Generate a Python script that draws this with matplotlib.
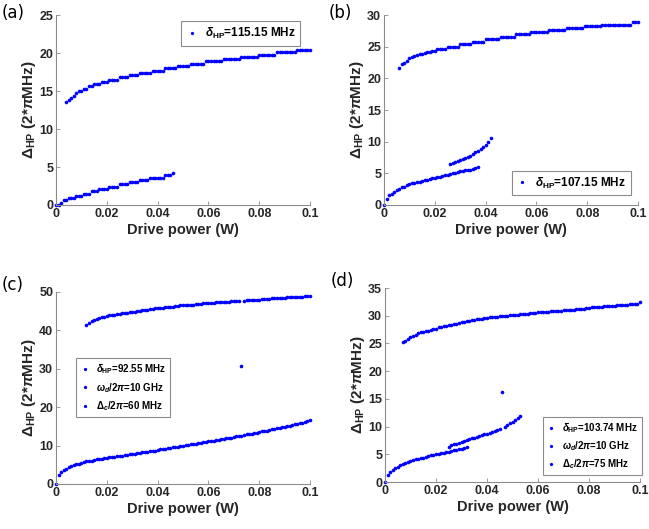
import numpy as np
import matplotlib
matplotlib.use('Agg')
import matplotlib.pyplot as plt

plt.rcParams['font.family'] = ['Liberation Sans', 'DejaVu Sans']
plt.rcParams['font.weight'] = 'bold'
plt.rcParams['mathtext.fontset'] = 'custom'
plt.rcParams['mathtext.rm'] = 'Liberation Sans:bold'
plt.rcParams['mathtext.it'] = 'Liberation Sans:italic:bold'
plt.rcParams['mathtext.bf'] = 'Liberation Sans:bold'

# ---- 数据 (驱动功率步长 0.001 W) ----
# (a)
a_up_start = 0.004
a_up = [13.5, 13.8, 14.1, 14.4, 14.7, 15.0, 15.0, 15.3, 15.3, 15.6, 15.6,
        15.9, 15.9, 15.9, 16.2, 16.2, 16.2,
        16.5, 16.5, 16.5, 16.5, 16.8, 16.8, 16.8, 16.8,
        17.1, 17.1, 17.1, 17.1, 17.4, 17.4, 17.4, 17.4, 17.4,
        17.7, 17.7, 17.7, 17.7, 17.7, 18.0, 18.0, 18.0, 18.0, 18.0,
        18.3, 18.3, 18.3, 18.3, 18.3, 18.6, 18.6, 18.6, 18.6, 18.6, 18.6,
        18.9, 18.9, 18.9, 18.9, 18.9, 18.9, 18.9,
        19.2, 19.2, 19.2, 19.2, 19.2, 19.2, 19.2,
        19.5, 19.5, 19.5, 19.5, 19.5, 19.5, 19.5,
        19.8, 19.8, 19.8, 19.8, 19.8, 19.8, 19.8,
        20.1, 20.1, 20.1, 20.1, 20.1, 20.1, 20.1, 20.1,
        20.4, 20.4, 20.4, 20.4, 20.4, 20.4]
a_low_start = 0.0
a_low = [0.0, 0.0, 0.3, 0.6, 0.6, 0.9, 0.9, 0.9, 1.2, 1.2, 1.2,
         1.5, 1.5, 1.5, 1.8, 1.8, 1.8, 2.1, 2.1, 2.1, 2.1,
         2.4, 2.4, 2.4, 2.4, 2.7, 2.7, 2.7, 2.7, 3.0, 3.0, 3.0, 3.0,
         3.3, 3.3, 3.3, 3.3, 3.6, 3.6, 3.6, 3.6, 3.6, 3.6,
         3.9, 3.9, 3.9, 4.2]

# (b)
b_up_start = 0.006
b_up = [21.7, 22.2, 22.5, 22.8, 23.2, 23.3, 23.5, 23.7, 23.8, 23.9, 24.0, 24.1, 24.2, 24.3, 24.4,
        24.6, 24.6, 24.6, 24.6, 25.0, 25.0, 25.0, 25.0, 25.0,
        25.4, 25.4, 25.4, 25.4, 25.4, 25.8, 25.8, 25.8, 25.8, 25.8,
        26.2, 26.2, 26.2, 26.2, 26.2, 26.2, 26.6, 26.6, 26.6, 26.6, 26.6, 26.6,
        27.0, 27.0, 27.0, 27.0, 27.0, 27.0,
        27.3, 27.3, 27.3, 27.3, 27.3, 27.3, 27.3,
        27.6, 27.6, 27.6, 27.6, 27.6, 27.6, 27.6,
        27.9, 27.9, 27.9, 27.9, 27.9, 27.9, 27.9,
        28.2, 28.2, 28.2, 28.2, 28.2, 28.2, 28.2,
        28.5, 28.5, 28.5, 28.5, 28.5, 28.5, 28.5, 28.5, 28.5, 28.5, 28.5, 28.5,
        28.9, 28.9, 28.9]
b_low_start = 0.0
b_low = [0.0, 1.0, 1.5, 1.8, 2.1, 2.4, 2.6, 2.8, 2.9, 3.1, 3.3, 3.4, 3.5, 3.6, 3.7,
         3.8, 3.9, 4.0, 4.1, 4.2, 4.3, 4.4, 4.5, 4.6, 4.7, 4.8, 4.9, 5.0, 5.1,
         5.2, 5.3, 5.4, 5.5, 5.6, 5.6, 5.7, 5.8, 6.0]
b_mid_start = 0.026
b_mid = [6.4, 6.6, 6.8, 7.0, 7.1, 7.3, 7.5, 7.6, 7.8, 8.1, 8.3, 8.5, 8.8, 9.1, 9.5, 10.0, 10.6]

# (c)
c_up_x = [0.012, 0.013, 0.014, 0.015, 0.016, 0.017, 0.018, 0.019, 0.020, 0.021,
          0.022, 0.023, 0.024, 0.025, 0.026, 0.027, 0.028, 0.029, 0.030, 0.031,
          0.032, 0.033, 0.034, 0.035, 0.036, 0.037, 0.038, 0.039, 0.040, 0.041,
          0.042, 0.043, 0.044, 0.045, 0.046, 0.047, 0.048, 0.049, 0.050, 0.051,
          0.052, 0.053, 0.054, 0.055, 0.056, 0.057, 0.058, 0.059, 0.060, 0.061,
          0.062, 0.063, 0.064, 0.065, 0.066, 0.067, 0.068, 0.069, 0.070, 0.071,
          0.072, 0.074, 0.075, 0.076, 0.077, 0.078, 0.079, 0.080, 0.081, 0.082,
          0.083, 0.084, 0.085, 0.086, 0.087, 0.088, 0.089, 0.090, 0.091, 0.092,
          0.093, 0.094, 0.095, 0.096, 0.097, 0.098, 0.099, 0.100]
c_up = [41.5, 42.0, 42.4, 42.7, 43.0, 43.2, 43.4, 43.6, 43.8, 43.9,
        44.0, 44.1, 44.2, 44.3, 44.4, 44.5, 44.6, 44.7, 44.8, 44.9,
        45.0, 45.1, 45.2, 45.3, 45.4, 45.5, 45.6, 45.7, 45.8, 45.8,
        45.9, 46.0, 46.0, 46.1, 46.2, 46.3, 46.4, 46.5, 46.5, 46.6,
        46.6, 46.7, 46.7, 46.8, 46.9, 46.9, 47.0, 47.0, 47.1, 47.2,
        47.2, 47.3, 47.3, 47.4, 47.4, 47.5, 47.5, 47.6, 47.6, 47.7,
        47.7, 47.7, 47.8, 47.8, 47.9, 47.9, 48.0, 48.0, 48.1, 48.1,
        48.2, 48.2, 48.3, 48.3, 48.4, 48.4, 48.5, 48.5, 48.6, 48.6,
        48.6, 48.7, 48.7, 48.8, 48.8, 48.9, 48.9, 49.0]
c_out_x = [0.073]
c_out = [30.8]
c_low_start = 0.0
c_low = [0.0, 2.4, 3.1, 3.6, 4.0, 4.3, 4.6, 4.9, 5.1, 5.3, 5.5,
         5.7, 5.9, 6.0, 6.1, 6.3, 6.4, 6.5, 6.6, 6.7, 6.8,
         6.9, 7.0, 7.1, 7.2, 7.3, 7.4, 7.5, 7.6, 7.7, 7.8,
         7.9, 8.0, 8.1, 8.2, 8.3, 8.4, 8.5, 8.6, 8.7, 8.9,
         9.0, 9.1, 9.2, 9.3, 9.4, 9.5, 9.6, 9.7, 9.8, 10.0,
         10.1, 10.2, 10.3, 10.4, 10.5, 10.6, 10.7, 10.9, 11.0, 11.1,
         11.2, 11.3, 11.4, 11.5, 11.7, 11.8, 11.9, 12.0, 12.1, 12.3,
         12.4, 12.5, 12.6, 12.7, 12.9, 13.0, 13.1, 13.3, 13.4, 13.5,
         13.7, 13.8, 13.9, 14.1, 14.2, 14.3, 14.5, 14.6, 14.8, 14.9,
         15.1, 15.2, 15.4, 15.5, 15.7, 15.8, 16.0, 16.2, 16.4, 16.6]

# (d)
d_up_start = 0.007
d_up = [25.2, 25.5, 25.8, 26.1, 26.4, 26.6, 26.8, 27.0, 27.1, 27.2,
        27.3, 27.5, 27.6, 27.7, 27.9, 28.0, 28.1, 28.2, 28.3, 28.4,
        28.5, 28.6, 28.7, 28.8, 28.9, 29.0, 29.1, 29.2, 29.3, 29.4,
        29.4, 29.5, 29.6, 29.6, 29.7, 29.7, 29.8, 29.8, 29.9, 29.9,
        30.0, 30.0, 30.1, 30.1, 30.2, 30.2, 30.3, 30.3, 30.4, 30.4,
        30.5, 30.5, 30.5, 30.6, 30.6, 30.7, 30.7, 30.7, 30.8, 30.8,
        30.9, 30.9, 30.9, 31.0, 31.0, 31.1, 31.1, 31.1, 31.2, 31.2,
        31.3, 31.3, 31.4, 31.4, 31.5, 31.5, 31.6, 31.6, 31.6, 31.7,
        31.7, 31.8, 31.8, 31.8, 31.9, 31.9, 32.0, 32.0, 32.0, 32.1,
        32.1, 32.1, 32.2, 32.5]
d_low_start = 0.0
d_low = [0.0, 1.2, 1.8, 2.2, 2.5, 2.8, 3.0, 3.2, 3.4, 3.6, 3.8,
         4.0, 4.1, 4.2, 4.3, 4.4, 4.6, 4.7, 4.8, 4.9, 5.0,
         5.1, 5.2, 5.3, 5.4, 5.5, 5.6, 5.7, 5.8, 5.9, 6.0, 6.1, 6.3]
d_mid_x = [0.025, 0.026, 0.027, 0.028, 0.029, 0.030, 0.031, 0.032, 0.033, 0.034,
           0.035, 0.036, 0.037, 0.038, 0.039, 0.040, 0.041, 0.042, 0.043, 0.044,
           0.045, 0.046, 0.047, 0.048, 0.049, 0.050, 0.051, 0.052, 0.053]
d_mid = [6.4, 6.6, 6.8, 6.9, 7.1, 7.3, 7.4, 7.6, 7.7, 7.9,
         8.0, 8.1, 8.3, 8.4, 8.6, 8.7, 8.9, 9.0, 9.2, 9.4,
         9.6, 16.3, 10.0, 10.3, 10.6, 10.9, 11.2, 11.5, 12.0]


def xs(start, vals):
    # 功率扫描步长 0.001 W
    return start + 0.001 * np.arange(len(vals))


xticks = [0, 0.02, 0.04, 0.06, 0.08, 0.1]
xticklabels = ['0', '0.02', '0.04', '0.06', '0.08', '0.1']
ylabel = r'$\Delta_{\mathbf{HP}}$ (2*$\pi$MHz)'

fig = plt.figure(figsize=(6.49, 5.29), dpi=100)

panels = [
    # 标签, 坐标轴位置, y上限, y步长
    ('(a)', [0.0863, 0.6125, 0.3914, 0.359], 25, 5),
    ('(b)', [0.5917, 0.6125, 0.3914, 0.359], 30, 5),
    ('(c)', [0.0863, 0.0851, 0.3914, 0.363], 50, 10),
    ('(d)', [0.5932, 0.0888, 0.3930, 0.3667], 35, 5),
]

axes = []
for tag, pos, ymax, ystep in panels:
    ax = fig.add_axes(pos)
    ax.set_xlim(0, 0.1)
    ax.set_ylim(0, ymax)
    ax.set_xticks(xticks)
    ax.set_xticklabels(xticklabels)
    ax.set_yticks(np.arange(0, ymax + 1, ystep))
    for s in ['top', 'right']:
        ax.spines[s].set_visible(False)
    for s in ['left', 'bottom']:
        ax.spines[s].set_color('#8c8c8c')
        ax.spines[s].set_linewidth(0.8)
    ax.tick_params(direction='in', length=3, width=0.6, color='#8c8c8c',
                   labelsize=9, labelcolor='#262626', pad=2)
    for lab in ax.get_xticklabels() + ax.get_yticklabels():
        lab.set_fontweight('bold')
    ax.set_xlabel('Drive power (W)', fontsize=10.5, fontweight='bold', color='#262626', labelpad=2)
    ax.set_ylabel(ylabel, fontsize=11, fontweight='bold', color='#262626', labelpad=1)
    ax.patch.set_alpha(0)
    axes.append(ax)

dot = dict(linestyle='none', marker='o', ms=2.6, color='blue', mec='none', clip_on=False)

fig.text(0.003, 0.992, '(a)', fontsize=12, family='DejaVu Sans', fontweight='normal', va='top')
fig.text(0.507, 0.992, '(b)', fontsize=12, family='DejaVu Sans', fontweight='normal', va='top')
fig.text(0.003, 0.478, '(c)', fontsize=12, family='DejaVu Sans', fontweight='normal', va='top')
fig.text(0.510, 0.486, '(d)', fontsize=12, family='DejaVu Sans', fontweight='normal', va='top')

leg_kw = dict(frameon=True, fancybox=False, framealpha=1, edgecolor='#8c8c8c',
              handlelength=1.0, handletextpad=0.6, borderpad=0.4, markerscale=0.9)

# (a)
ax = axes[0]
ax.plot(xs(a_up_start, a_up), a_up, label=r'$\delta_{\mathbf{HP}}$=115.15 MHz', **dot)
ax.plot(xs(a_low_start, a_low), a_low, **dot)
lg = ax.legend(loc='upper right', bbox_to_anchor=(0.985, 1.0), prop={'size': 8.5, 'weight': 'bold'}, **leg_kw)
lg.get_frame().set_linewidth(0.8)

# (b)
ax = axes[1]
ax.plot(xs(b_up_start, b_up), b_up, label=r'$\delta_{\mathbf{HP}}$=107.15 MHz', **dot)
ax.plot(xs(b_low_start, b_low), b_low, **dot)
ax.plot(xs(b_mid_start, b_mid), b_mid, **dot)
lg = ax.legend(loc='lower right', bbox_to_anchor=(0.995, 0.02), prop={'size': 8.5, 'weight': 'bold'}, **leg_kw)
lg.get_frame().set_linewidth(0.8)

# (c)
ax = axes[2]
ax.plot(c_up_x, c_up, label=r'$\delta_{\mathbf{HP}}$=92.55 MHz', **dot)
ax.plot(c_out_x, c_out, label=r'$\omega_d$/2$\pi$=10 GHz', **dot)
ax.plot(xs(c_low_start, c_low), c_low, label=r'$\Delta_c$/2$\pi$=60 MHz', **dot)
lg = ax.legend(loc='upper left', bbox_to_anchor=(0.06, 0.68), prop={'size': 7, 'weight': 'bold'},
               labelspacing=0.5, **leg_kw)
lg.get_frame().set_linewidth(0.8)

# (d)
ax = axes[3]
ax.plot(xs(d_up_start, d_up), d_up, label=r'$\delta_{\mathbf{HP}}$=103.74 MHz', **dot)
ax.plot(xs(d_low_start, d_low), d_low, label=r'$\omega_d$/2$\pi$=10 GHz', **dot)
ax.plot(d_mid_x, d_mid, label=r'$\Delta_c$/2$\pi$=75 MHz', **dot)
lg = ax.legend(loc='lower right', bbox_to_anchor=(1.025, 0.01), prop={'size': 7, 'weight': 'bold'},
               labelspacing=0.45, **leg_kw)
lg.get_frame().set_linewidth(0.8)

fig.savefig('out.png', dpi=100)
